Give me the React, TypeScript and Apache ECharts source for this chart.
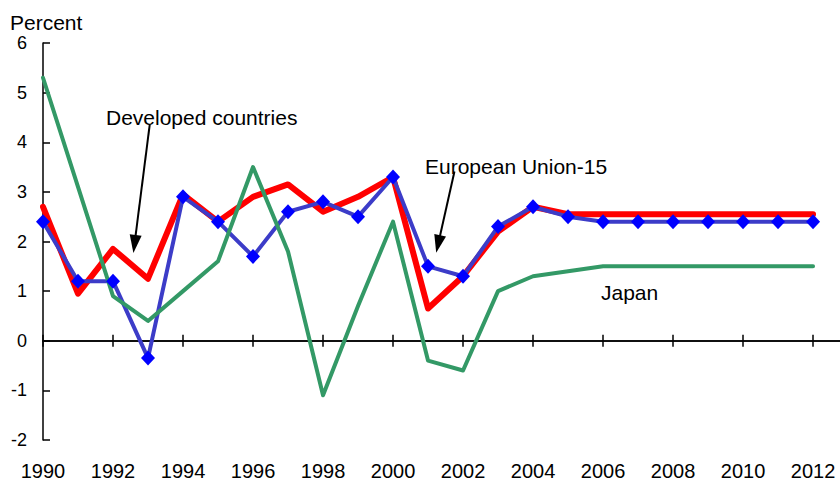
import { useEffect, useRef } from 'react';
import * as echarts from 'echarts';

const years = [1990, 1991, 1992, 1993, 1994, 1995, 1996, 1997, 1998, 1999, 2000, 2001, 2002, 2003, 2004, 2005, 2006, 2007, 2008, 2009, 2010, 2011, 2012];
const developedCountries = [2.7, 0.95, 1.85, 1.25, 2.95, 2.4, 2.9, 3.15, 2.6, 2.9, 3.3, 0.65, 1.3, 2.2, 2.7, 2.55, 2.55, 2.55, 2.55, 2.55, 2.55, 2.55, 2.55];
const europeanUnion15 = [2.4, 1.2, 1.2, -0.35, 2.9, 2.4, 1.7, 2.6, 2.8, 2.5, 3.3, 1.5, 1.3, 2.3, 2.7, 2.5, 2.4, 2.4, 2.4, 2.4, 2.4, 2.4, 2.4];
const japan = [5.3, 3.1, 0.9, 0.4, 1.0, 1.6, 3.5, 1.8, -1.1, 0.7, 2.4, -0.4, -0.6, 1.0, 1.3, 1.4, 1.5, 1.5, 1.5, 1.5, 1.5, 1.5, 1.5];
const xTickValues = [1990, 1992, 1994, 1996, 1998, 2000, 2002, 2004, 2006, 2008, 2010, 2012];

const FONT = 'Liberation Sans, Arial, Helvetica, sans-serif';

export default function App() {
  const ref = useRef<HTMLDivElement>(null);

  useEffect(() => {
    document.body.style.margin = '0';
    const chart = echarts.init(ref.current!, null, { renderer: 'svg' });
    const pairs = (vals: number[]) => years.map((y, i) => [y, vals[i]]);
    const xMin = 1990;
    const xMax = 2012.77;

    chart.setOption({
      animation: false,
      backgroundColor: '#ffffff',
      textStyle: { fontFamily: FONT, color: '#000' },
      grid: {
        left: 43,
        top: 43,
        width: 797,
        height: 397,
        containLabel: false,
        outerBoundsMode: 'none',
      },
      xAxis: [
        {
          type: 'value',
          min: xMin,
          max: xMax,
          position: 'bottom',
          axisLine: { show: true, onZero: true, onZeroAxisIndex: 0, lineStyle: { color: '#000', width: 1.5 } },
          axisTick: { show: true, inside: false, length: 6, customValues: xTickValues, lineStyle: { color: '#000', width: 1.5 } },
          axisLabel: {
            show: true,
            customValues: xTickValues,
            margin: 21,
            fontSize: 20,
            color: '#000',
            fontFamily: FONT,
            formatter: (v: number) => String(v),
          },
          splitLine: { show: false },
        },
        {
          type: 'value',
          min: xMin,
          max: xMax,
          position: 'bottom',
          axisLine: { show: true, onZero: true, onZeroAxisIndex: 1, lineStyle: { color: '#000', width: 1.5 } },
          axisTick: { show: true, inside: true, length: 6, customValues: xTickValues, lineStyle: { color: '#000', width: 1.5 } },
          axisLabel: { show: false },
          splitLine: { show: false },
        },
      ],
      yAxis: [
        {
          type: 'value',
          min: -2,
          max: 6,
          interval: 1,
          axisLine: { show: true, onZero: false, lineStyle: { color: '#000', width: 1.5 } },
          axisTick: { show: true, inside: true, length: 7, lineStyle: { color: '#000', width: 1.5 } },
          axisLabel: { margin: 16, fontSize: 18, color: '#000', fontFamily: FONT },
          splitLine: { show: false },
        },
        {
          type: 'value',
          min: -2,
          max: 6,
          interval: 1,
          show: false,
          axisLine: { onZero: false },
          splitLine: { show: false },
        },
      ],
      graphic: [
        { type: 'text', x: 10, y: 22, style: { text: 'Percent', font: `21px ${FONT}`, fill: '#000', verticalAlign: 'middle', align: 'left' } },
        { type: 'text', x: 106, y: 117, style: { text: 'Developed countries', font: `21px ${FONT}`, fill: '#000', verticalAlign: 'middle', align: 'left' } },
        { type: 'text', x: 425, y: 166.5, style: { text: 'European Union-15', font: `21px ${FONT}`, fill: '#000', verticalAlign: 'middle', align: 'left' } },
        { type: 'text', x: 601, y: 292.5, style: { text: 'Japan', font: `21px ${FONT}`, fill: '#000', verticalAlign: 'middle', align: 'left' } },
      ],
      series: [
        {
          name: 'Developed countries',
          type: 'line',
          xAxisIndex: 0,
          yAxisIndex: 0,
          data: pairs(developedCountries),
          symbol: 'none',
          lineStyle: { color: '#ff0000', width: 6, cap: 'round', join: 'round' },
          itemStyle: { color: '#ff0000' },
          markLine: {
            silent: true,
            animation: false,
            label: { show: false },
            lineStyle: { color: '#000', width: 2, type: 'solid' },
            symbol: ['none', 'triangle'],
            data: [
              [
                { coord: [1993.05, 4.36], symbol: 'none' },
                { coord: [1992.615, 1.95], symbol: 'triangle', symbolSize: [12, 18] },
              ],
              [
                { coord: [2001.755, 3.41], symbol: 'none' },
                { coord: [2001.29, 1.95], symbol: 'triangle', symbolSize: [12, 18] },
              ],
            ],
          },
        },
        {
          name: 'European Union-15',
          type: 'line',
          xAxisIndex: 0,
          yAxisIndex: 0,
          data: pairs(europeanUnion15),
          symbol: 'diamond',
          symbolSize: [14, 15],
          showSymbol: true,
          lineStyle: { color: '#3c3cc8', width: 4 },
          itemStyle: { color: '#0000ff' },
        },
        {
          name: 'Japan',
          type: 'line',
          xAxisIndex: 0,
          yAxisIndex: 0,
          data: pairs(japan),
          symbol: 'none',
          lineStyle: { color: '#339966', width: 4, cap: 'round', join: 'round' },
          itemStyle: { color: '#339966' },
        },
      ],
    });

    return () => chart.dispose();
  }, []);

  return <div ref={ref} style={{ width: 840, height: 482 }} />;
}
